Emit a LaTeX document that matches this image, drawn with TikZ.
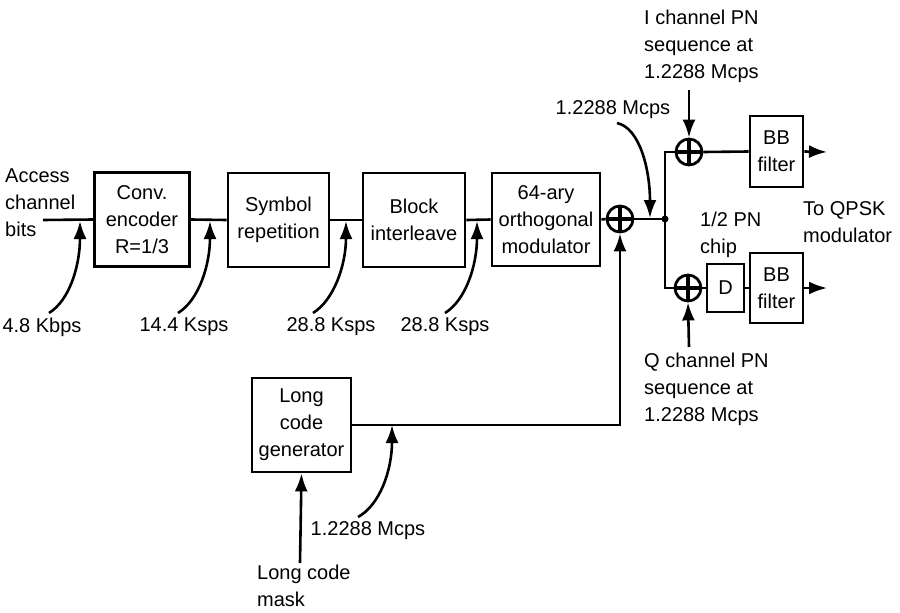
\documentclass[tikz,border=0pt]{standalone}
\usepackage{fontspec}
\setmainfont{Liberation Sans}
\usetikzlibrary{arrows.meta}
\begin{document}
\begin{tikzpicture}[x=1pt,y=-1pt,
  font=\fontsize{20}{27}\selectfont,
  blockbox/.style={draw, line width=2.8pt, align=center, inner sep=0pt},
  xorn/.style={circle, draw, line width=2.8pt, minimum size=26pt, inner sep=0pt,
    path picture={\draw[line width=3.6pt] (path picture bounding box.north) -- (path picture bounding box.south)
      (path picture bounding box.west) -- (path picture bounding box.east);}},
  wire/.style={line width=2.6pt},
  arr/.style={wire, -{Latex[length=18pt,width=13pt]}},
  lbl/.style={align=left, inner sep=0pt}
]
\useasboundingbox (0,0) rectangle (900,613);

% blocks
\node[blockbox, minimum width=95pt, minimum height=94pt] (conv) at (142,219.5) {Conv.\\encoder\\R=1/3};
\node[blockbox, minimum width=101pt, minimum height=94pt] (sym) at (278.5,220) {Symbol\\repetition};
\node[blockbox, minimum width=102pt, minimum height=94pt] (blk) at (414,220) {Block\\interleave};
\node[blockbox, minimum width=108pt, minimum height=93pt] (mod) at (546,219.5) {64-ary\\orthogonal\\modulator};
\node[blockbox, minimum width=99pt, minimum height=94pt] (lcg) at (301.5,425) {Long\\code\\generator};
\node[blockbox, minimum width=53pt, minimum height=71pt] (bbI) at (776.5,151.5) {BB\\filter};
\node[blockbox, minimum width=53pt, minimum height=70pt] (bbQ) at (776.5,288) {BB\\filter};
\node[blockbox, minimum width=37pt, minimum height=48pt] (dly) at (725.5,288) {D};

% xors
\node[xorn] (xm) at (620,219) {};
\node[xorn] (xi) at (689,152) {};
\node[xorn] (xq) at (688,288) {};

% junction
\coordinate (J) at (665,219);
\fill (J) circle (3.5pt);

% labels
\node[lbl, anchor=west] (acc) at (5,203) {Access\\channel\\bits};
\node[lbl, anchor=west] (qpsk) at (803,222) {To QPSK\\modulator};
\node[lbl, anchor=west] (half) at (700,235) {1/2 PN\\chip};
\node[lbl, anchor=west] (ich) at (644,46.5) {I channel PN\\sequence at\\1.2288 Mcps};
\node[lbl, anchor=west] (qch) at (644,389.5) {Q channel PN\\sequence at\\1.2288 Mcps};
\node[lbl, anchor=west] (mask) at (257,586) {Long code\\mask};
\node[inner sep=0pt] (r1) at (42,327) {4.8 Kbps};
\node[inner sep=0pt] (r2) at (184,327) {14.4 Ksps};
\node[inner sep=0pt] (r3) at (331,327) {28.8 Ksps};
\node[inner sep=0pt] (r4) at (445,327) {28.8 Ksps};
\node[inner sep=0pt] (m1) at (613,110) {1.2288 Mcps};
\node[inner sep=0pt] (m2) at (368,531) {1.2288 Mcps};

% coordinates
\coordinate (in) at (43,220);
\coordinate (oI) at (827,152);
\coordinate (oQ) at (827,288);
\coordinate (iTop) at (689,90);
\coordinate (qBot) at (689,347);
\coordinate (mBot) at (300,563);
\coordinate (s1) at (49,313);   \coordinate (t1) at (80,221);
\coordinate (s2) at (178,313);  \coordinate (t2) at (210,221);
\coordinate (s3) at (313,313);  \coordinate (t3) at (346,221);
\coordinate (s4) at (445,313);  \coordinate (t4) at (477,221);
\coordinate (s5) at (617,123);  \coordinate (t5) at (650,218);
\coordinate (s6) at (358,517);  \coordinate (t6) at (392,425);

% main chain
\draw[wire] (in) -- (conv.west);
\draw[wire] (conv.east) -- (sym.west);
\draw[wire] (sym.east) -- (blk.west);
\draw[wire] (blk.east) -- (mod.west);
\draw[wire] (mod.east) -- (xm.west);
\draw[wire] (xm.east) -- (J);
\draw[wire] (xi.west) -- (xi.west -| J) -- (xq.west -| J) -- (xq.west);
\draw[wire] (xi.east) -- (bbI.west);
\draw[wire] (xq.east) -- (dly.west);
\draw[wire] (dly.east) -- (bbQ.west);
\draw[arr] (bbI.east) -- (oI);
\draw[arr] (bbQ.east) -- (oQ);
\draw[arr] (lcg.east) -| (xm.south);
\draw[arr] (iTop) -- (xi.north);
\draw[arr] (qBot) -- (xq.south);
\draw[arr] (mBot) -- (lcg.south);

% rate arrows
\draw[arr] (s1) .. controls (70,300) and (80,265) .. (t1);
\draw[arr] (s2) .. controls (199,300) and (210,265) .. (t2);
\draw[arr] (s3) .. controls (334,300) and (346,265) .. (t3);
\draw[arr] (s4) .. controls (466,300) and (477,265) .. (t4);
\draw[arr] (s5) .. controls (640,128) and (650,170) .. (t5);
\draw[arr] (s6) .. controls (380,505) and (392,470) .. (t6);
\end{tikzpicture}
\end{document}
